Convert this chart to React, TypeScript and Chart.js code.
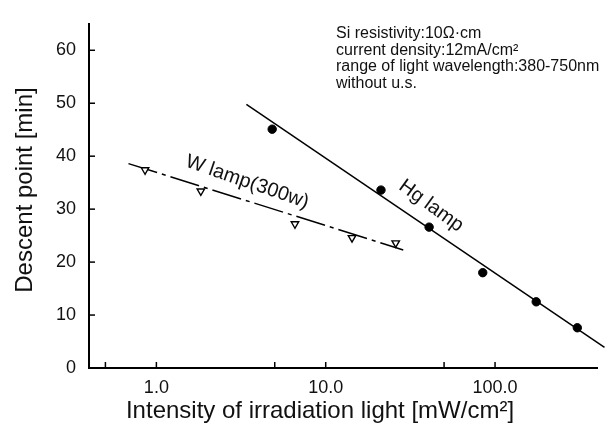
import React, { useEffect, useRef } from 'react';
import { Chart, registerables } from 'chart.js';

Chart.register(...registerables);

// ---- data ----
const hgIntensity = [4.83, 21.2, 40.8, 84.6, 175, 306];
const hgDescent = [45.1, 33.6, 26.6, 18.0, 12.5, 7.6];
const hgFitIntensity = [3.4, 443];
const hgFitDescent = [49.8, 3.9];

const wIntensity = [0.857, 1.83, 6.58, 14.3, 25.9];
const wDescent = [37.4, 33.4, 27.2, 24.6, 23.6];
const wFitIntensity = [0.684, 28.7];
const wFitDescent = [38.6, 22.3];

const xTickValues = [0.5, 1, 5, 10, 50, 100];
const xTickLabels: Record<string, string> = { '1': '1.0', '10': '10.0', '100': '100.0' };
const yTickValues = [0, 10, 20, 30, 40, 50, 60];

const noteLines = [
  'Si resistivity:10\u03a9\u00b7cm',
  'current density:12mA/cm\u00b2',
  'range of light wavelength:380-750nm',
  'without u.s.',
];
const xTitle = 'Intensity of irradiation light [mW/cm\u00b2]';
const yTitle = 'Descent point [min]';
const hgLabel = 'Hg lamp';
const wLabel = 'W lamp(300w)';

const FONT = '"Liberation Sans", Arial, Helvetica, sans-serif';

const toPts = (xs: number[], ys: number[]) => xs.map((x, i) => ({ x, y: ys[i] }));

const annotPlugin = {
  id: 'annot',
  afterDraw(chart: any) {
    const { ctx, chartArea, scales } = chart;
    const x = scales.x;
    const y = scales.y;
    ctx.save();
    ctx.strokeStyle = '#000';
    ctx.lineWidth = 1.5;
    // inward tick marks
    xTickValues.forEach((v) => {
      const px = x.getPixelForValue(v);
      ctx.beginPath();
      ctx.moveTo(px, chartArea.bottom);
      ctx.lineTo(px, chartArea.bottom - 6);
      ctx.stroke();
    });
    yTickValues.forEach((v) => {
      if (v === 0) return;
      const py = y.getPixelForValue(v);
      ctx.beginPath();
      ctx.moveTo(chartArea.left, py);
      ctx.lineTo(chartArea.left + 6, py);
      ctx.stroke();
    });

    ctx.fillStyle = '#111';
    // axis titles
    ctx.font = `24px ${FONT}`;
    ctx.textAlign = 'center';
    ctx.textBaseline = 'middle';
    ctx.fillText(xTitle, 320, 411);
    ctx.save();
    ctx.translate(25, 190);
    ctx.rotate(-Math.PI / 2);
    ctx.fillText(yTitle, 0, 0);
    ctx.restore();

    // line labels
    ctx.font = `20px ${FONT}`;
    ctx.save();
    ctx.translate(x.getPixelForValue(41.9), y.getPixelForValue(30.6));
    ctx.rotate((36 * Math.PI) / 180);
    ctx.fillText(hgLabel, 0, 0);
    ctx.restore();
    ctx.save();
    ctx.translate(x.getPixelForValue(3.44), y.getPixelForValue(35.1));
    ctx.rotate((19 * Math.PI) / 180);
    ctx.fillText(wLabel, 0, 0);
    ctx.restore();

    // notes
    ctx.font = `16px ${FONT}`;
    ctx.textAlign = 'left';
    ctx.textBaseline = 'alphabetic';
    noteLines.forEach((t, i) => {
      ctx.fillText(t, 336, 38 + i * 16.5);
    });
    ctx.restore();
  },
};

export default function App() {
  const ref = useRef<HTMLCanvasElement | null>(null);
  useEffect(() => {
    document.body.style.margin = '0';
    const canvas = ref.current;
    if (!canvas) return;
    const chart = new Chart(canvas, {
      type: 'scatter',
      data: {
        datasets: [
          {
            label: 'Hg lamp',
            data: toPts(hgIntensity, hgDescent),
            pointStyle: 'circle',
            pointRadius: 4.2,
            pointBackgroundColor: '#000',
            pointBorderColor: '#000',
            showLine: false,
          },
          {
            label: 'Hg fit',
            data: toPts(hgFitIntensity, hgFitDescent),
            showLine: true,
            borderColor: '#000',
            borderWidth: 1.5,
            pointRadius: 0,
            clip: false as any,
          },
          {
            label: 'W lamp',
            data: toPts(wIntensity, wDescent),
            pointStyle: 'triangle',
            rotation: 180,
            pointRadius: 4.3,
            pointBackgroundColor: '#fff',
            pointBorderColor: '#000',
            pointBorderWidth: 1.4,
            showLine: false,
          },
          {
            label: 'W fit',
            data: toPts(wFitIntensity, wFitDescent),
            showLine: true,
            borderColor: '#000',
            borderWidth: 1.5,
            borderDash: [30, 5, 4, 5],
            pointRadius: 0,
          },
        ],
      },
      options: {
        animation: false,
        responsive: false,
        maintainAspectRatio: false,
        layout: { padding: { left: 0, right: 10, top: 14, bottom: 0 } },
        plugins: { legend: { display: false }, tooltip: { enabled: false } },
        scales: {
          x: {
            type: 'logarithmic',
            min: 0.4,
            max: 400,
            afterBuildTicks: (s: any) => {
              s.ticks = xTickValues.map((v) => ({ value: v }));
            },
            afterFit: (s: any) => {
              s.height = 66;
            },
            ticks: {
              autoSkip: false,
              maxRotation: 0,
              padding: 9,
              color: '#111',
              font: { size: 18, family: FONT },
              callback: (v: any) => xTickLabels[String(v)] ?? '',
            },
            grid: { display: true, drawOnChartArea: false, drawTicks: false },
            border: { display: true, color: '#000', width: 2 },
          },
          y: {
            type: 'linear',
            min: 0,
            max: 65,
            afterBuildTicks: (s: any) => {
              s.ticks = yTickValues.map((v) => ({ value: v }));
            },
            afterFit: (s: any) => {
              s.width = 89;
            },
            ticks: {
              padding: 13,
              color: '#111',
              font: { size: 18, family: FONT },
            },
            grid: { display: true, drawOnChartArea: false, drawTicks: false },
            border: { display: true, color: '#000', width: 2 },
          },
        },
      },
      plugins: [annotPlugin],
    });
    return () => chart.destroy();
  }, []);
  return (
    <div style={{ width: 607, height: 434, background: '#fff' }}>
      <canvas ref={ref} width={607} height={434} style={{ display: 'block' }} />
    </div>
  );
}
